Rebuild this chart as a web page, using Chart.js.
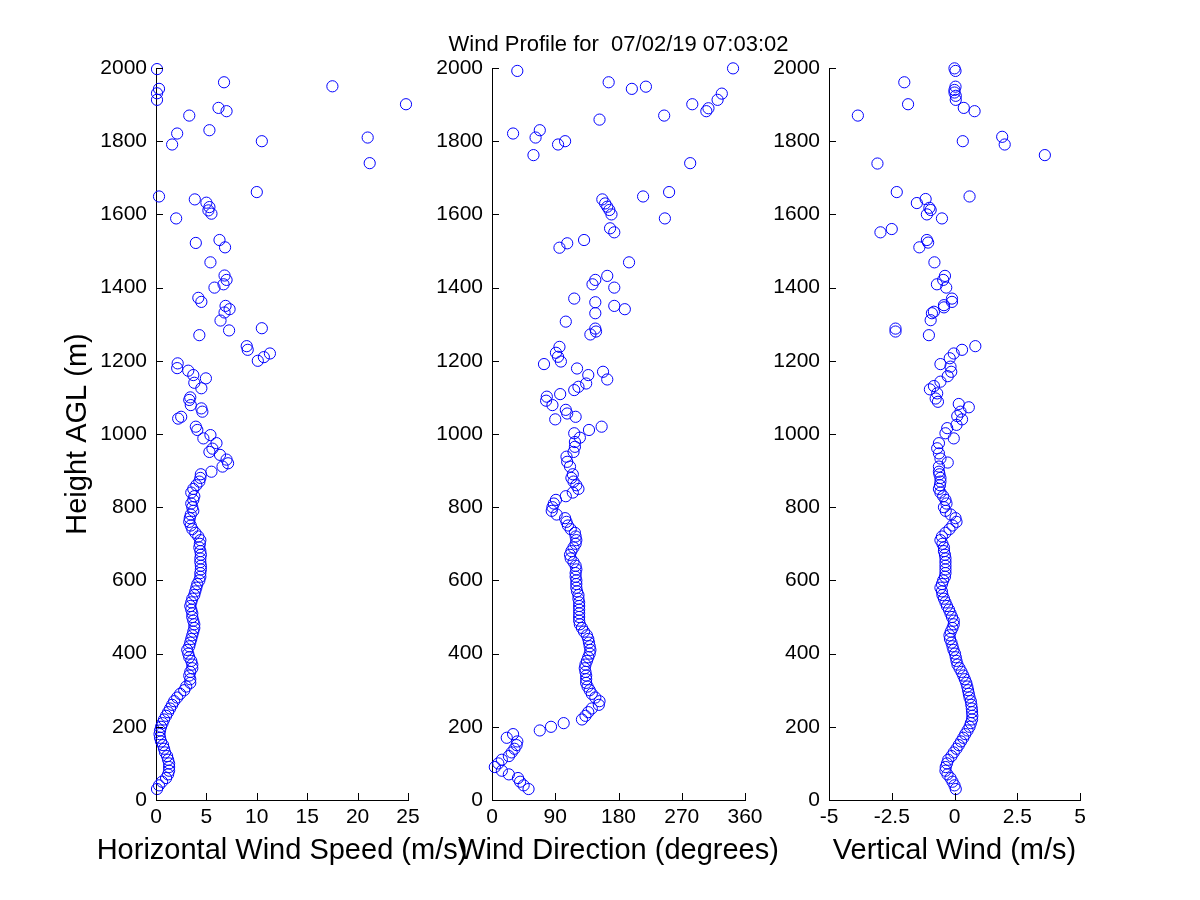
<!DOCTYPE html>
<html>
<head>
<meta charset="utf-8">
<title>Wind Profile</title>
<script src="https://cdn.jsdelivr.net/npm/chart.js@4.4.0/dist/chart.umd.min.js"></script>
<style>
    body { margin: 0; background: #ffffff; }
    #wrap { position: relative; width: 1200px; height: 900px; background: #ffffff; }
    #wrap canvas { position: absolute; left: 0; top: 0; }
</style>
</head>
<body>
<div id="wrap">
    <canvas id="speedChart" width="1200" height="900"></canvas>
    <canvas id="dirChart" width="1200" height="900"></canvas>
    <canvas id="vertChart" width="1200" height="900"></canvas>
</div>
<script>
const chartTitle = "Wind Profile for  07/02/19 07:03:02";

// tick labels
const heightTicks = [0, 200, 400, 600, 800, 1000, 1200, 1400, 1600, 1800, 2000];
const speedTicks = [0, 5, 10, 15, 20, 25];
const dirTicks = [0, 90, 180, 270, 360];
const vertTicks = [-5, -2.5, 0, 2.5, 5];

// dense lower gates (m AGL)
const heightsLow = [
    30, 40, 50, 60, 70, 80, 90, 100, 110, 120,
    130, 140, 150, 160, 170, 180, 190, 200, 210, 220,
    230, 240, 250, 260, 270, 280, 290, 300, 310, 320,
    330, 340, 350, 360, 370, 380, 390, 400, 410, 420,
    430, 440, 450, 460, 470, 480, 490, 500, 510, 520,
    530, 540, 550, 560, 570, 580, 590, 600, 610, 620,
    630, 640, 650, 660, 670, 680, 690, 700, 710, 720,
    730, 740, 750, 760, 770, 780, 790, 800, 810, 820,
    830, 840, 850, 860, 870, 880, 890
];

// horizontal wind speed (m/s)
const speedLow = [
    0.1, 0.3, 0.6, 1.0, 1.2, 1.3, 1.3, 1.3, 1.2, 1.1,
    0.9, 0.8, 0.7, 0.5, 0.4, 0.35, 0.4, 0.5, 0.65, 0.8,
    1.0, 1.2, 1.4, 1.6, 1.8, 2.1, 2.4, 2.8, 3.0, 3.4,
    3.4, 3.3, 3.4, 3.6, 3.6, 3.5, 3.3, 3.2, 3.1, 3.3,
    3.4, 3.5, 3.6, 3.7, 3.8, 3.8, 3.7, 3.6, 3.6, 3.5,
    3.4, 3.5, 3.6, 3.8, 3.9, 4.0, 4.1, 4.3, 4.4, 4.4,
    4.45, 4.45, 4.4, 4.4, 4.45, 4.4, 4.3, 4.35, 4.4, 4.2,
    3.9, 3.6, 3.45, 3.3, 3.35, 3.45, 3.7, 3.6, 3.5, 3.7,
    3.8, 3.5, 3.7, 4.0, 4.3, 4.4, 4.45
];
const speedUpHeights = [
    897, 911, 920, 930, 943, 951, 960, 975, 988, 997,
    1011, 1020, 1042, 1047, 1061, 1070, 1079, 1093, 1100, 1125,
    1140, 1152, 1161, 1173, 1180, 1193, 1200, 1210, 1220, 1230,
    1240, 1270, 1283, 1289, 1310, 1332, 1341, 1350, 1361, 1372,
    1400, 1409, 1421, 1433, 1469, 1510, 1522, 1530, 1589, 1602,
    1611, 1620, 1632, 1641, 1649, 1661, 1740, 1791, 1800, 1810,
    1821, 1830, 1870, 1882, 1891, 1901, 1913, 1931, 1943, 1950,
    1961, 1997
];
const speedUp = [
    5.5, 6.6, 7.15, 7.0, 6.35, 5.3, 5.6, 6.0, 4.7, 5.4,
    4.1, 3.95, 2.2, 2.5, 4.6, 4.5, 3.45, 3.3, 3.4, 4.5,
    3.8, 4.95, 3.7, 3.2, 2.1, 2.15, 10.1, 10.7, 11.3, 9.1,
    9.0, 4.3, 7.25, 10.5, 6.4, 6.8, 7.3, 6.9, 4.5, 4.2,
    5.8, 6.7, 7.0, 6.8, 5.4, 6.85, 3.95, 6.3, 2.0, 5.5,
    5.2, 5.3, 5.0, 3.85, 0.3, 10.0, 21.2, 1.6, 10.5, 21.0,
    2.1, 5.3, 3.3, 7.0, 6.2, 24.8, 0.1, 0.1, 0.3, 17.5,
    6.75, 0.1
];

// wind direction (degrees)
const dirLow = [
    52, 45, 40, 37, 24, 14, 4, 9, 14, 24,
    28, 32, 35, 36, 21, 30, 68, 84, 102, 128,
    133, 137, 142, 152, 153, 147, 142, 139, 136, 134,
    134, 134, 133, 132, 133, 135, 137, 139, 140, 139,
    138, 137, 135, 131, 128, 125, 124, 124, 124, 124,
    124, 124, 123, 123, 121, 120, 120, 120, 119, 119,
    120, 119, 116, 112, 111, 113, 116, 119, 120, 119,
    118, 112, 108, 106, 104, 92, 85, 86, 88, 91,
    105, 115, 123, 120, 116, 113, 115
];
const dirUpHeights = [
    911, 924, 938, 951, 965, 978, 990, 1002, 1011, 1020,
    1040, 1047, 1056, 1066, 1079, 1091, 1102, 1109, 1120, 1129,
    1138, 1149, 1161, 1170, 1179, 1191, 1198, 1211, 1222, 1238,
    1272, 1280, 1288, 1307, 1330, 1341, 1350, 1360, 1370, 1400,
    1409, 1421, 1432, 1469, 1509, 1521, 1530, 1551, 1562, 1589,
    1600, 1612, 1621, 1630, 1641, 1649, 1661, 1740, 1762, 1791,
    1800, 1810, 1821, 1830, 1859, 1870, 1882, 1890, 1901, 1913,
    1930, 1943, 1949, 1961, 1992, 1999
];
const dirUp = [
    111, 107, 106, 116, 118, 118, 125, 117, 138, 156,
    90, 119, 107, 105, 86, 77, 78, 97, 117, 123,
    134, 164, 137, 158, 121, 74, 98, 94, 91, 96,
    140, 148, 147, 105, 147, 189, 174, 147, 117, 174,
    143, 147, 164, 195, 96, 107, 131, 174, 168, 246,
    170, 167, 164, 161, 157, 215, 252, 282, 59, 94,
    104, 62, 30, 68, 153, 245, 305, 308, 285, 321,
    327, 199, 219, 166, 36, 343
];

// vertical wind (m/s)
const vertLow = [
    0.05, 0.0, -0.08, -0.16, -0.28, -0.36, -0.35, -0.3, -0.25, -0.12,
    -0.03, 0.08, 0.17, 0.26, 0.35, 0.43, 0.52, 0.6, 0.65, 0.7,
    0.71, 0.7, 0.69, 0.67, 0.65, 0.6, 0.57, 0.54, 0.51, 0.47,
    0.41, 0.35, 0.28, 0.2, 0.12, 0.08, 0.05, 0.02, -0.04, -0.08,
    -0.12, -0.18, -0.2, -0.15, -0.08, -0.03, -0.03, -0.1, -0.16, -0.22,
    -0.3, -0.36, -0.42, -0.48, -0.5, -0.56, -0.5, -0.45, -0.38, -0.36,
    -0.36, -0.36, -0.36, -0.36, -0.38, -0.42, -0.42, -0.48, -0.56, -0.5,
    -0.36, -0.2, -0.08, 0.08, 0.04, -0.15, -0.35, -0.42, -0.32, -0.36,
    -0.45, -0.56, -0.62, -0.58, -0.56, -0.56, -0.6
];
const vertUpHeights = [
    897, 911, 922, 933, 947, 961, 975, 988, 1002, 1016,
    1025, 1040, 1049, 1061, 1073, 1082, 1088, 1097, 1111, 1122,
    1131, 1143, 1158, 1170, 1184, 1191, 1207, 1220, 1230, 1240,
    1270, 1280, 1288, 1311, 1330, 1334, 1346, 1352, 1361, 1370,
    1400, 1409, 1421, 1432, 1469, 1510, 1523, 1530, 1551, 1560,
    1589, 1600, 1612, 1618, 1631, 1642, 1649, 1661, 1739, 1762,
    1791, 1800, 1812, 1870, 1882, 1891, 1901, 1913, 1924, 1933,
    1940, 1949, 1961, 1992, 1999
];
const vertUp = [
    -0.62, -0.62, -0.27, -0.56, -0.62, -0.69, -0.62, -0.03, -0.36, -0.29,
    0.08, 0.3, 0.11, 0.24, 0.57, 0.17, -0.66, -0.75, -0.69, -0.98,
    -0.82, -0.56, -0.27, -0.13, -0.16, -0.56, -0.19, -0.03, 0.3, 0.83,
    -1.02, -2.35, -2.35, -0.95, -0.9, -0.82, -0.42, -0.42, -0.1, -0.1,
    -0.33, -0.7, -0.45, -0.38, -0.8, -1.4, -1.05, -1.1, -2.95, -2.5,
    -0.5, -1.1, -0.95, -1.0, -1.5, -1.15, 0.6, -2.3, -3.07, 3.6,
    2.0, 0.33, 1.9, -3.85, 0.8, 0.37, -1.85, 0.05, 0.05, 0.0,
    0.0, 0.04, -2.0, 0.04, 0.0
];

const FONT = "'Liberation Sans', Arial, Helvetica, sans-serif";

function toPoints(heights, values) {
    return heights.map((h, i) => ({ x: values[i], y: h }));
}

// matlab-style ticks pointing into the axes
const inwardTicks = {
    id: "inwardTicks",
    afterDraw: (chart) => {
        const ctx = chart.ctx;
        const a = chart.chartArea;
        const xs = chart.scales.x;
        const ys = chart.scales.y;
        ctx.save();
        ctx.strokeStyle = "#000000";
        ctx.lineWidth = 1;
        ctx.beginPath();
        xs.ticks.forEach(t => {
            const px = Math.round(xs.getPixelForValue(t.value)) + 0.5;
            ctx.moveTo(px, a.bottom);
            ctx.lineTo(px, a.bottom - 7);
        });
        ys.ticks.forEach(t => {
            const py = Math.round(ys.getPixelForValue(t.value)) + 0.5;
            ctx.moveTo(a.left, py);
            ctx.lineTo(a.left + 7, py);
        });
        ctx.stroke();
        ctx.restore();
    }
};

// x label drawn by hand so it is not squeezed to the axis width (they overlap in the original)
const xLabel = {
    id: "xLabel",
    afterDraw: (chart, args, opts) => {
        const ctx = chart.ctx;
        const a = chart.chartArea;
        ctx.save();
        ctx.fillStyle = "#000000";
        ctx.font = "29px " + FONT;
        ctx.textAlign = "center";
        ctx.textBaseline = "middle";
        ctx.fillText(opts.text, (a.left + a.right) / 2, 851);
        ctx.restore();
    }
};

const figureTitle = {
    id: "figureTitle",
    afterDraw: (chart) => {
        const ctx = chart.ctx;
        const a = chart.chartArea;
        ctx.save();
        ctx.fillStyle = "#000000";
        ctx.font = "22px " + FONT;
        ctx.textAlign = "center";
        ctx.textBaseline = "middle";
        ctx.fillText(chartTitle, (a.left + a.right) / 2, 45);
        ctx.restore();
    }
};

function renderPanel(canvasId, points, xTicks, xTitle, left, right, yTitle, extra) {
    const yWidth = yTitle ? 95 : 70;

    new Chart(document.getElementById(canvasId), {
        type: "scatter",
        data: {
            datasets: [{
                data: points,
                pointStyle: "circle",
                pointRadius: 5.6,
                pointHoverRadius: 5.6,
                pointBorderWidth: 1,
                borderColor: "#0000ff",
                backgroundColor: "rgba(0,0,0,0)",
                clip: false
            }]
        },
        options: {
            responsive: false,
            animation: false,
            events: [],
            layout: {
                padding: { left: left - yWidth, right: 1200 - right, top: 68, bottom: 32 }
            },
            plugins: {
                legend: { display: false },
                tooltip: { enabled: false },
                xLabel: { text: xTitle }
            },
            scales: {
                x: {
                    type: "linear",
                    min: xTicks[0],
                    max: xTicks[xTicks.length - 1],
                    afterBuildTicks: (s) => { s.ticks = xTicks.map(v => ({ value: v })); },
                    afterFit: (s) => { s.height = 68; },
                    grid: { display: false, drawTicks: false },
                    border: { display: true, color: "#000000", width: 1 },
                    ticks: {
                        color: "#000000",
                        font: { family: FONT, size: 21 },
                        padding: 5,
                        maxRotation: 0,
                        autoSkip: false,
                        callback: (v) => String(v)
                    }
                },
                y: {
                    type: "linear",
                    min: heightTicks[0],
                    max: heightTicks[heightTicks.length - 1],
                    afterBuildTicks: (s) => { s.ticks = heightTicks.map(v => ({ value: v })); },
                    afterFit: (s) => { s.width = yWidth; },
                    grid: { display: false, drawTicks: false },
                    border: { display: true, color: "#000000", width: 1 },
                    ticks: {
                        color: "#000000",
                        font: { family: FONT, size: 21 },
                        padding: 9,
                        autoSkip: false,
                        callback: (v) => String(v)
                    },
                    title: {
                        display: !!yTitle,
                        text: yTitle || "",
                        color: "#000000",
                        font: { family: FONT, size: 29 },
                        padding: 0
                    }
                }
            }
        },
        plugins: [inwardTicks, xLabel].concat(extra || [])
    });
}

renderPanel("speedChart",
    toPoints(heightsLow, speedLow).concat(toPoints(speedUpHeights, speedUp)),
    speedTicks, "Horizontal Wind Speed (m/s)", 156, 408, "Height AGL (m)");

renderPanel("dirChart",
    toPoints(heightsLow, dirLow).concat(toPoints(dirUpHeights, dirUp)),
    dirTicks, "Wind Direction (degrees)", 492, 745, null, [figureTitle]);

renderPanel("vertChart",
    toPoints(heightsLow, vertLow).concat(toPoints(vertUpHeights, vertUp)),
    vertTicks, "Vertical Wind (m/s)", 829, 1080, null);
</script>
</body>
</html>
